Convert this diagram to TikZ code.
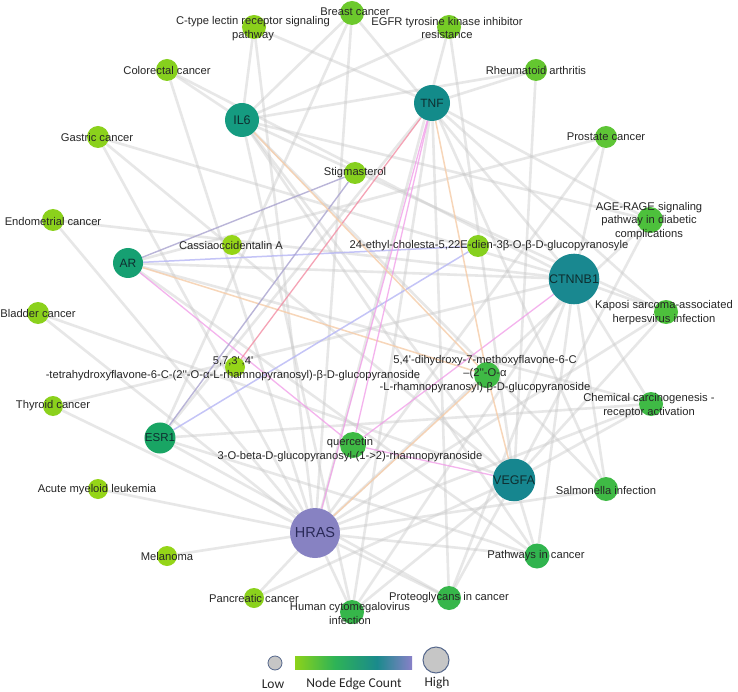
\documentclass[tikz,border=0pt]{standalone}
\usepackage{fontspec}
\setmainfont{Liberation Sans}
\newfontfamily\legfont{Carlito}
\usetikzlibrary{backgrounds}
\newcommand\qs{\textquotesingle}
\definecolor{txt}{HTML}{262626}
\definecolor{hubtxt}{HTML}{0E2E30}
\definecolor{hrastxt}{HTML}{2A2A58}
\definecolor{cBC}{HTML}{6CC92C}
\definecolor{cLG}{HTML}{8BD11C}
\definecolor{cYG}{HTML}{95D518}
\definecolor{cEG}{HTML}{76CC26}
\definecolor{cCR}{HTML}{86D01E}
\definecolor{cRA}{HTML}{64C630}
\definecolor{cPC}{HTML}{5EC536}
\definecolor{cAG}{HTML}{4DC03C}
\definecolor{cMG}{HTML}{3FBA45}
\definecolor{cDG}{HTML}{36B64A}
\definecolor{cPIC}{HTML}{30B44E}
\definecolor{cIL}{HTML}{159B80}
\definecolor{cTNF}{HTML}{138B8A}
\definecolor{cAR}{HTML}{16A072}
\definecolor{cESR}{HTML}{19A564}
\definecolor{cCTN}{HTML}{198890}
\definecolor{cVEG}{HTML}{16868F}
\definecolor{cHR}{HTML}{8782C2}
\definecolor{eGray}{HTML}{CACACA}
\definecolor{ePink}{HTML}{F19AE8}
\definecolor{eOr}{HTML}{F6CCA8}
\definecolor{eBlue}{HTML}{B6B6F5}
\definecolor{ePur}{HTML}{A9A3CF}
\definecolor{eRed}{HTML}{F2869E}
\definecolor{g1}{HTML}{8CD21A}
\definecolor{g2}{HTML}{2EB356}
\definecolor{g3}{HTML}{1A8A8C}
\definecolor{g4}{HTML}{8880C8}
\definecolor{legfill}{HTML}{C6C6C6}
\definecolor{legdraw}{HTML}{56688C}
\pgfdeclarehorizontalshading{edgecount}{100bp}{color(0bp)=(g1); color(25bp)=(g1); color(42bp)=(g2); color(60bp)=(g3); color(75bp)=(g4); color(100bp)=(g4)}
\tikzset{
  nd/.style 2 args={circle, fill=#1, minimum size=#2, inner sep=0pt, draw=none},
  lbl/.style={font=\fontsize{11.2}{13.8}\selectfont, text=txt, align=center, inner sep=0pt},
  hub/.style={font=\fontsize{#1}{14}\selectfont, text=hubtxt},
  legl/.style={font=\legfont\fontsize{13.5}{15}\selectfont, text=txt, inner sep=0pt},
  gE/.style={draw=eGray, line width=2.6pt, opacity=0.45},
  pinkE/.style={draw=ePink, line width=1.3pt, opacity=0.75},
  orE/.style={draw=eOr, line width=1.5pt, opacity=0.8},
  blueE/.style={draw=eBlue, line width=1.5pt, opacity=0.8},
  purE/.style={draw=ePur, line width=1.4pt, opacity=0.8},
  redE/.style={draw=eRed, line width=1.3pt, opacity=0.75}
}
\begin{document}
\begin{tikzpicture}[x=1pt,y=-1pt]
\useasboundingbox (0,0) rectangle (738,692);
% nodes
\node[nd={cBC}{24pt}] (bc) at (352,13) {};
\node[nd={cLG}{24pt}] (ctl) at (254,27) {};
\node[nd={cEG}{24pt}] (egfr) at (449,27) {};
\node[nd={cCR}{22pt}] (crc) at (167,70) {};
\node[nd={cRA}{22pt}] (ra) at (536,70) {};
\node[nd={cIL}{34pt}, hub=12.5] (il6) at (242,120) {IL6};
\node[nd={cTNF}{36pt}, hub=12] (tnf) at (432,103) {TNF};
\node[nd={cLG}{22pt}] (gc) at (98,137) {};
\node[nd={cPC}{22pt}] (pc) at (606,137) {};
\node[nd={cCR}{22pt}] (stig) at (355,173) {};
\node[nd={cAG}{26pt}] (age) at (650,220) {};
\node[nd={cLG}{22pt}] (ec) at (53,220) {};
\node[nd={cYG}{20pt}] (cas) at (232,245) {};
\node[nd={cCR}{22pt}] (eth) at (478,246) {};
\node[nd={cAR}{30pt}, hub=12] (ar) at (128,263) {AR};
\node[nd={cCTN}{39pt}, hub=12.5] (ctn) at (574,279) {CTNNB1};
\node[nd={cLG}{22pt}] (bl) at (38,313) {};
\node[nd={cAG}{24pt}] (ksh) at (666,312) {};
\node[nd={cYG}{20pt}] (f7) at (235,367) {};
\node[nd={cMG}{26pt}] (f5) at (487,375) {};
\node[nd={cLG}{20pt}] (tc) at (53,406) {};
\node[nd={cMG}{24pt}] (cc) at (651,404) {};
\node[nd={cESR}{29pt}, hub=11.5] (esr) at (160,438) {ESR1};
\node[nd={cMG}{26pt}] (que) at (353,445) {};
\node[nd={cVEG}{38pt}, hub=12.5] (veg) at (514,480) {VEGFA};
\node[nd={cMG}{24pt}] (sal) at (606,489) {};
\node[nd={cYG}{20pt}] (aml) at (98,489) {};
\node[nd={cHR}{50pt}, font=\fontsize{14.5}{16}\selectfont, text=hrastxt] (hras) at (315,533) {HRAS};
\node[nd={cYG}{20pt}] (mel) at (167,556) {};
\node[nd={cPIC}{25pt}] (pic) at (537,556) {};
\node[nd={cLG}{20pt}] (pan) at (254,598) {};
\node[nd={cDG}{24pt}] (pro) at (449,598) {};
\node[nd={cDG}{24pt}] (hcmv) at (352,612) {};
% labels
\node[lbl] (bcL) at (355,12) {Breast cancer};
\node[lbl] (ctlL) at (253,28.5) {C-type lectin receptor signaling\\pathway};
\node[lbl] (egfrL) at (447,28) {EGFR tyrosine kinase inhibitor\\resistance};
\node[lbl] (crcL) at (167,71) {Colorectal cancer};
\node[lbl] (raL) at (536,71) {Rheumatoid arthritis};
\node[lbl] (gcL) at (97,137) {Gastric cancer};
\node[lbl] (pcL) at (606,137) {Prostate cancer};
\node[lbl] (stigL) at (355,173) {Stigmasterol};
\node[lbl] (ageL) at (649,221) {AGE-RAGE signaling\\pathway in diabetic\\complications};
\node[lbl] (ecL) at (53,221) {Endometrial cancer};
\node[lbl] (casL) at (231,245) {Cassiaoccidentalin A};
\node[lbl] (ethL) at (489,246) {24-ethyl-cholesta-5,22E-dien-3β-O-β-D-glucopyranosyle};
\node[lbl] (blL) at (38,313) {Bladder cancer};
\node[lbl] (kshL) at (664,313) {Kaposi sarcoma-associated\\herpesvirus infection};
\node[lbl] (f7L) at (233,368.5) {5,7,3\qs\,,4\qs\\-tetrahydroxyflavone-6-C-(2\qs\qs-O-α-L-rhamnopyranosyl)-β-D-glucopyranoside};
\node[lbl] (f5L) at (485,374) {5,4\qs-dihydroxy-7-methoxyflavone-6-C\\–(2\qs\qs-O-α\\-L-rhamnopyranosyl)-β-D-glucopyranoside};
\node[lbl] (tcL) at (53,406) {Thyroid cancer};
\node[lbl] (ccL) at (649,406) {Chemical carcinogenesis -\\receptor activation};
\node[lbl] (queL) at (350,449.5) {quercetin\\3-O-beta-D-glucopyranosyl-(1->2)-rhamnopyranoside};
\node[lbl] (salL) at (606,490) {Salmonella infection};
\node[lbl] (amlL) at (97,490) {Acute myeloid leukemia};
\node[lbl] (melL) at (167,556) {Melanoma};
\node[lbl] (picL) at (536,556) {Pathways in cancer};
\node[lbl] (panL) at (254,598) {Pancreatic cancer};
\node[lbl] (proL) at (449,598) {Proteoglycans in cancer};
\node[lbl] (hcmvL) at (350,613.5) {Human cytomegalovirus\\infection};
% legend
\node[circle, fill=legfill, draw=legdraw, line width=0.8pt, minimum size=14pt, inner sep=0pt] (low) at (275,663) {};
\node[shade, shading=edgecount, minimum width=117pt, minimum height=13pt, inner sep=0pt] (bar) at (353.5,662.5) {};
\node[circle, fill=legfill, draw=legdraw, line width=1pt, minimum size=26pt, inner sep=0pt] (high) at (436,660) {};
\node[legl] (lowL) at (273,684) {Low};
\node[legl] (barL) at (354,684) {Node Edge Count};
\node[legl] (highL) at (437,683) {High};
% edges
\begin{scope}[on background layer]
\fill[white] (0,0) rectangle (738,692);
\foreach \a/\b in {bc/esr, bc/ctn, bc/hras, bc/il6,
  ctl/il6, ctl/tnf, ctl/hras,
  egfr/il6, egfr/hras, egfr/veg,
  crc/il6, crc/hras, crc/ctn,
  ra/il6, ra/tnf, ra/veg,
  gc/ctn, gc/hras, gc/veg,
  pc/ar, pc/hras, pc/ctn,
  age/il6, age/tnf, age/veg, age/hras,
  ec/ctn, ec/hras,
  bl/hras, bl/veg,
  ksh/il6, ksh/hras, ksh/ctn, ksh/veg,
  tc/ctn, tc/hras,
  cc/ar, cc/esr, cc/ctn, cc/hras, cc/veg,
  sal/tnf, sal/il6, sal/ctn, sal/hras,
  aml/hras, mel/hras,
  pan/hras, pan/veg,
  hcmv/il6, hcmv/tnf, hcmv/ctn, hcmv/hras, hcmv/veg,
  pro/esr, pro/hras, pro/veg, pro/ctn, pro/tnf,
  pic/ar, pic/esr, pic/ctn, pic/hras, pic/il6, pic/veg,
  tnf/esr, tnf/ksh, il6/veg, ar/ctn}
  \draw[gE] (\a) -- (\b);
\draw[pinkE] (ar) -- (que);
\draw[orE] (ar) -- (f5);
\draw[blueE] (ar) -- (eth);
\draw[purE] (ar) -- (stig);
\draw[purE] (esr) -- (stig);
\draw[blueE] (esr) -- (eth);
\draw[redE] (tnf) -- (f7);
\draw[pinkE] (tnf) -- (que);
\draw[pinkE] (tnf) -- (hras);
\draw[pinkE] (ctn) -- (que);
\draw[pinkE] (que) -- (veg);
\draw[orE] (tnf) -- (f5);
\draw[orE] (f5) -- (veg);
\draw[orE] (il6) -- (f5);
\draw[orE] (hras) -- (f5);
\end{scope}
\end{tikzpicture}
\end{document}
